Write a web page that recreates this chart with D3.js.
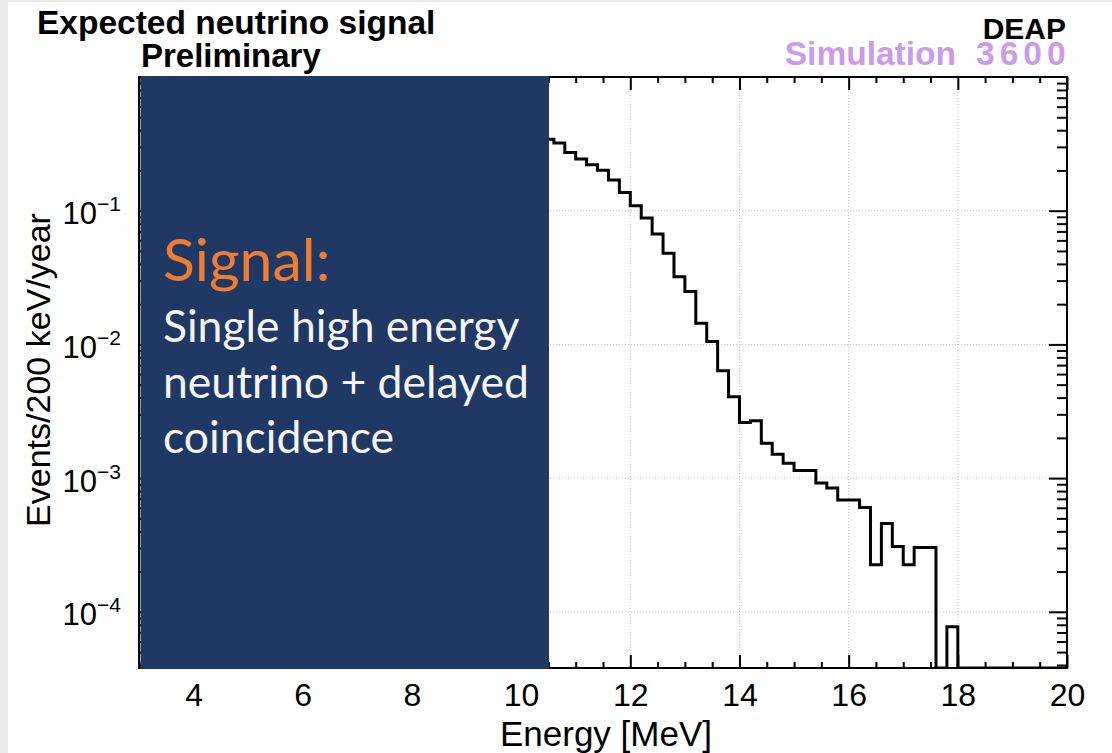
<!DOCTYPE html>
<html>
<head>
<meta charset="utf-8">
<script src="https://cdn.jsdelivr.net/npm/d3@7"></script>
<style>
  html, body { margin: 0; padding: 0; background: #fff; }
  svg { display: block; }
  .root { font-family: "Liberation Sans", Arial, sans-serif; }
  .box-text { font-family: Lato, "Open Sans", sans-serif; }
</style>
</head>
<body>
<div id="chart"></div>
<script>
// bin low edges (MeV), 200 keV bins, visible part of the spectrum
const binLow = [10.4, 10.6, 10.8, 11.0, 11.2, 11.4, 11.6, 11.8, 12.0, 12.2,
  12.4, 12.6, 12.8, 13.0, 13.2, 13.4, 13.6, 13.8, 14.0, 14.2,
  14.4, 14.6, 14.8, 15.0, 15.2, 15.4, 15.6, 15.8, 16.0, 16.2,
  16.4, 16.6, 16.8, 17.0, 17.2, 17.4, 17.6, 17.8, 18.0, 18.2,
  18.4, 18.6, 18.8, 19.0, 19.2, 19.4, 19.6, 19.8];
// events / 200 keV / year
const events = [0.343, 0.321, 0.273, 0.244, 0.221, 0.201, 0.170, 0.137, 0.109, 0.0882,
  0.0670, 0.0480, 0.0321, 0.0249, 0.0144, 0.0105, 0.00635, 0.00406, 0.00261, 0.00269,
  0.00182, 0.00151, 0.00129, 0.00114, 0.00114, 0.000918, 0.000843, 0.000686, 0.000686, 0.000603,
  0.000225, 0.000458, 0.000308, 0.000225, 0.000303, 0.000303, 0, 0.0000773, 0, 0,
  0, 0, 0, 0, 0, 0, 0, 0];
const binWidth = 0.2;

const xMajor = [4, 6, 8, 10, 12, 14, 16, 18, 20];
const yDecades = [1e-1, 1e-2, 1e-3, 1e-4];
const yDecadeExp = ['\u22121', '\u22122', '\u22123', '\u22124'];

const W = 1112, H = 753;
const frame = { left: 139, right: 1067, top: 77, bottom: 668 };
const yMin = 3.8e-5, yMax = 1;

const svg = d3.select('#chart').append('svg')
  .attr('width', W).attr('height', H)
  .attr('class', 'root');

// slide background strips
svg.append('rect').attr('x', 0).attr('y', 0).attr('width', W).attr('height', H).attr('fill', '#fff');
svg.append('rect').attr('x', 0).attr('y', 0).attr('width', 8).attr('height', H).attr('fill', '#ebebeb');
svg.append('rect').attr('x', 0).attr('y', 0).attr('width', W).attr('height', 2).attr('fill', '#ebebeb');

const x = d3.scaleLinear().domain([3, 20]).range([frame.left, frame.right]);
const y = d3.scaleLog().domain([yMin, yMax]).range([frame.bottom, frame.top]);

// minor ticks
const xMinor = d3.range(3, 20.001, 0.5).filter(v => !xMajor.includes(v));
const yMinor = [];
[1e-5, 1e-4, 1e-3, 1e-2, 1e-1].forEach(d => {
  for (let k = 2; k <= 9; k++) {
    const v = d * k;
    if (v > yMin && v < yMax) yMinor.push(v);
  }
});

// grid
const grid = svg.append('g').attr('stroke', '#c4c4c4').attr('stroke-width', 1)
  .attr('stroke-dasharray', '1,2');
grid.selectAll('.gx').data(xMajor.filter(v => v < 20)).enter().append('line')
  .attr('x1', d => x(d)).attr('x2', d => x(d))
  .attr('y1', frame.top).attr('y2', frame.bottom);
grid.selectAll('.gy').data(yDecades).enter().append('line')
  .attr('x1', frame.left).attr('x2', frame.right)
  .attr('y1', d => y(d)).attr('y2', d => y(d));

// histogram
svg.append('clipPath').attr('id', 'frameClip').append('rect')
  .attr('x', frame.left).attr('y', frame.top)
  .attr('width', frame.right - frame.left).attr('height', frame.bottom - frame.top);

const pts = binLow.map((e, i) => [e, events[i]]);
pts.push([binLow[binLow.length - 1] + binWidth, events[events.length - 1]]);

const line = d3.line()
  .x(d => x(d[0]))
  .y(d => y(Math.max(d[1], yMin)))
  .curve(d3.curveStepAfter);

svg.append('path')
  .datum(pts)
  .attr('clip-path', 'url(#frameClip)')
  .attr('fill', 'none')
  .attr('stroke', '#000')
  .attr('stroke-width', 3)
  .attr('stroke-linejoin', 'miter')
  .attr('d', line);

// axes
function styleAxis(g) {
  g.select('.domain').remove();
  g.selectAll('.tick line').attr('stroke', '#000').attr('stroke-width', 2);
}

svg.append('g').attr('transform', `translate(0,${frame.bottom})`)
  .call(d3.axisBottom(x).tickValues(xMinor).tickSize(-6).tickFormat(''))
  .call(styleAxis);
svg.append('g').attr('transform', `translate(0,${frame.bottom})`)
  .call(d3.axisBottom(x).tickValues(xMajor).tickSize(-13).tickPadding(15).tickFormat(d3.format('d')))
  .call(styleAxis)
  .call(g => g.selectAll('.tick text')
    .attr('font-family', '"Liberation Sans", Arial, sans-serif')
    .attr('font-size', 32).attr('fill', '#000'));

svg.append('g').attr('transform', `translate(0,${frame.top})`)
  .call(d3.axisTop(x).tickValues(xMinor).tickSize(-6).tickFormat(''))
  .call(styleAxis);
svg.append('g').attr('transform', `translate(0,${frame.top})`)
  .call(d3.axisTop(x).tickValues(xMajor).tickSize(-13).tickFormat(''))
  .call(styleAxis);

svg.append('g').attr('transform', `translate(${frame.right},0)`)
  .call(d3.axisRight(y).tickValues(yMinor).tickSize(-10).tickFormat(''))
  .call(styleAxis);
svg.append('g').attr('transform', `translate(${frame.right},0)`)
  .call(d3.axisRight(y).tickValues(yDecades).tickSize(-18).tickFormat(''))
  .call(styleAxis);

svg.append('g').attr('transform', `translate(${frame.left},0)`)
  .call(d3.axisLeft(y).tickValues(yMinor).tickSize(-10).tickFormat(''))
  .call(styleAxis);
const leftAxis = svg.append('g').attr('transform', `translate(${frame.left},0)`)
  .call(d3.axisLeft(y).tickValues(yDecades).tickSize(-18).tickFormat(''))
  .call(styleAxis);

// y labels 10^-n
leftAxis.selectAll('.tick').each(function (d, i) {
  const t = d3.select(this).append('text')
    .attr('x', -18).attr('y', 13)
    .attr('text-anchor', 'end')
    .attr('font-family', '"Liberation Sans", Arial, sans-serif')
    .attr('fill', '#000')
    .attr('font-size', 31);
  t.append('tspan').text('10');
  t.append('tspan').attr('dy', -13).attr('font-size', 21).text(yDecadeExp[i]);
});

// frame
svg.append('rect')
  .attr('x', frame.left).attr('y', frame.top)
  .attr('width', frame.right - frame.left).attr('height', frame.bottom - frame.top)
  .attr('fill', 'none').attr('stroke', '#000').attr('stroke-width', 2);

// axis titles
svg.append('text')
  .attr('x', (x(3) + x(20)) / 2 + 3).attr('y', 746)
  .attr('text-anchor', 'middle').attr('font-size', 35).attr('fill', '#000')
  .text('Energy [MeV]');

svg.append('text')
  .attr('transform', 'translate(50,370) rotate(-90)')
  .attr('text-anchor', 'middle').attr('font-size', 34).attr('fill', '#000')
  .text('Events/200 keV/year');

// titles
svg.append('text').attr('x', 37).attr('y', 34)
  .attr('font-size', 33.5).attr('font-weight', 'bold').attr('fill', '#000')
  .text('Expected neutrino signal');
svg.append('text').attr('x', 141).attr('y', 67)
  .attr('font-size', 33).attr('font-weight', 'bold').attr('fill', '#000')
  .text('Preliminary');

svg.append('text').attr('x', 1066).attr('y', 39)
  .attr('text-anchor', 'end')
  .attr('font-size', 30).attr('font-weight', 'bold').attr('fill', '#000')
  .text('DEAP');
svg.append('text').attr('x', 956).attr('y', 65)
  .attr('text-anchor', 'end')
  .attr('font-size', 33.5).attr('font-weight', 'bold').attr('fill', '#c99be8')
  .text('Simulation');
svg.append('text').attr('x', 976).attr('y', 65)
  .attr('font-size', 33.5).attr('font-weight', 'bold').attr('fill', '#c99be8')
  .attr('letter-spacing', 5)
  .text('3600');

// overlay box from the slide
svg.append('rect')
  .attr('x', 140.5).attr('y', 76)
  .attr('width', 549 - 140.5).attr('height', 669 - 76)
  .attr('fill', '#203864');

const box = svg.append('g').attr('class', 'box-text');
box.append('text').attr('x', 163).attr('y', 281)
  .attr('font-size', 59).attr('fill', '#ed7d31')
  .text('Signal:');
const boxLines = ['Single high energy', 'neutrino + delayed', 'coincidence'];
box.selectAll('.bl').data(boxLines).enter().append('text')
  .attr('x', 163)
  .attr('y', (d, i) => 342 + i * 55.5)
  .attr('font-size', 44.5).attr('fill', '#f4f4f4')
  .text(d => d);
</script>
</body>
</html>
